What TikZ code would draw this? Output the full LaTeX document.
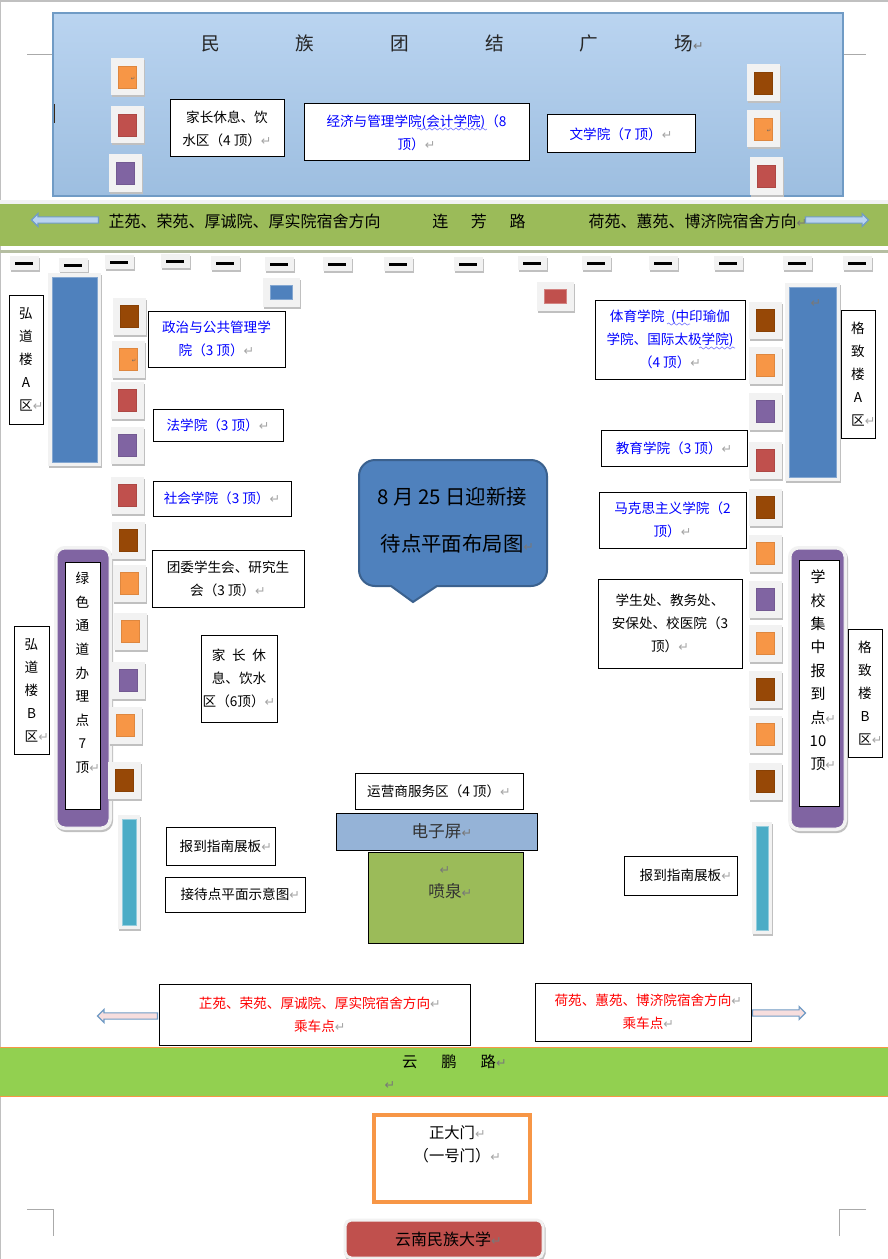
\documentclass[tikz,border=0pt]{standalone}
\usepackage{fontspec}
\setmainfont{Noto Sans CJK SC}
\newfontfamily\symfont{DejaVu Sans}
\usepackage{xcolor}
\definecolor{mapPlazaTop}{RGB}{186,212,240}
\definecolor{mapPlazaBot}{RGB}{157,190,224}
\definecolor{mapPlazaDraw}{RGB}{112,155,197}
\definecolor{mapRoad}{RGB}{155,187,89}
\definecolor{mapRoadTwo}{RGB}{146,208,80}
\definecolor{mapOrange}{RGB}{247,150,70}
\definecolor{mapRed}{RGB}{192,80,77}
\definecolor{mapPurple}{RGB}{128,100,162}
\definecolor{mapBrown}{RGB}{151,72,6}
\definecolor{mapBlue}{RGB}{79,129,189}
\definecolor{mapTeal}{RGB}{75,172,198}
\definecolor{mapScreen}{RGB}{149,179,215}
\definecolor{mapFrame}{RGB}{242,242,242}
\definecolor{mapShadow}{RGB}{192,192,192}
\definecolor{mapRet}{RGB}{165,165,165}
\definecolor{mapRetDark}{RGB}{120,120,120}
\definecolor{mapCrop}{RGB}{170,170,170}
\usepackage{tikz}
\usetikzlibrary{shapes.arrows,decorations.pathmorphing}
\newcommand{\retmark}{{\symfont\color{mapRet}\fontsize{9.5}{9.5}\selectfont ↵}}
\newcommand{\retdark}{{\symfont\color{mapRetDark}\fontsize{9.5}{9.5}\selectfont ↵}}
\newcommand{\retlap}{\rlap{\retmark}}
\newcommand{\darklap}{\rlap{\retdark}}
\newcommand{\tinyret}{\raisebox{-5pt}{\hspace{9pt}{\symfont\color{black!60}\fontsize{4}{4}\selectfont ↵}}}
\begin{document}
\begin{tikzpicture}[
    x=0.75pt, y=-0.75pt,
    sz/.style 2 args={minimum width=#1*0.75pt, minimum height=#2*0.75pt},
    framed/.style={
      preaction={draw=mapShadow, line width=#1*0.75pt, transform canvas={xshift=0.75pt,yshift=-1.5pt}},
      preaction={draw=mapFrame, line width=#1*0.75pt}},
    textbox/.style={draw=black, line width=0.75pt, fill=white, inner sep=0pt, align=center,
      font=\fontsize{10.2}{17.25}\selectfont},
    bluebox/.style={textbox, text=blue},
    redbox/.style={textbox, text=red},
    lbl/.style={inner sep=0pt, align=center, font=\fontsize{12}{17.25}\selectfont},
    tent/.style={fill=#1, draw=#1!90!black, line width=0.4pt, framed=15, inner sep=0pt,
      sz={18}{22}},
    dashmark/.style={fill=black, inner sep=0pt, framed=11, sz={18}{3}},
    block/.style={fill=mapBlue, draw=mapBlue!70!white, line width=0.4pt, framed=8, inner sep=0pt},
    smallblock/.style={fill=#1, draw=#1!70!white, line width=0.4pt, framed=15, inner sep=0pt, sz={22}{14}},
    panel/.style={fill=mapTeal, draw=mapTeal!60!white, line width=0.6pt, framed=8, inner sep=0pt},
    counter/.style={fill=mapPurple, draw=mapFrame, line width=0.75pt, rounded corners=6pt, framed=6, inner sep=0pt},
    flowarrow/.style={single arrow, fill=#1, draw=mapPlazaDraw, line width=0.9pt, inner sep=0pt,
      text height=3.8pt, text depth=0pt, single arrow head extend=2.5pt},
    squiggle/.style={draw=blue!50!white, line width=0.5pt,
      decorate, decoration={snake, amplitude=0.8pt, segment length=4pt}},
    crop/.style={draw=mapCrop, line width=0.6pt}
  ]
    \useasboundingbox (0,0) rectangle (888,1259);
    \fill[white] (0,0) rectangle (888,1259);
    \draw[mapShadow, line width=1pt] (0,1259) -- (0,1) -- (888,1);

    \draw[crop] (27,54) -- (53,54);
    \draw[crop] (844,54) -- (866,54);
    \draw[crop] (27,1209) -- (53,1209) -- (53,1236);
    \draw[crop] (866,1209) -- (839,1209) -- (839,1236);

    \node[sz={790}{183}, draw=mapPlazaDraw, line width=1.4pt, top color=mapPlazaTop, bottom color=mapPlazaBot, inner sep=0pt] (plaza) at (448,104.5) {};
    \node[lbl, font=\fontsize{14}{16}\selectfont, text=black!85] (plazatitle) at (447,43) {民\hspace{57pt}族\hspace{57pt}团\hspace{57pt}结\hspace{57pt}广\hspace{57pt}场\darklap};
    \draw[black!70!brown, line width=0.7pt] (54,104) -- (54,123);

    \node[tent=mapOrange] (topw1) at (127,77) {\tinyret};
    \node[tent=mapRed] (topw2) at (127,125) {};
    \node[tent=mapPurple] (topw3) at (125,173) {};
    \node[tent=mapBrown] (tope1) at (763,83) {};
    \node[tent=mapOrange] (tope2) at (763,129) {\tinyret};
    \node[tent=mapRed] (tope3) at (766,176) {};

    \node[textbox, sz={114}{57}] (restnorth) at (227,128.5) {家长休息、饮\\水区（4 顶）\retmark};
    \node[bluebox, sz={225}{57}] (econ) at (416.5,132.5) {经济与管理学院(会计学院)（8\\顶）\retmark};
    \node[bluebox, sz={148}{38}] (lit) at (621,134) {文学院（7 顶）\retmark};
    \draw[squiggle] (417,129) -- (487,129);

    \fill[mapFrame] (0,200) rectangle (888,204);
    \fill[mapShadow!70!mapRoad] (0,250) rectangle (888,253);
    \node[sz={888}{42}, fill=mapRoad, inner sep=0pt] (lianfang) at (444,225) {};
    \node[lbl] (dormwest) at (244.5,221) {芷苑、荣苑、厚诚院、厚实院宿舍方向};
    \node[lbl] (lianfangname) at (479,221) {连\hspace{17pt}芳\hspace{17pt}路};
    \node[lbl] (dormeast) at (692.5,221) {荷苑、蕙苑、博济院宿舍方向\darklap};
    \node[flowarrow=mapPlazaTop, shape border rotate=180, sz={12}{67}] (arrowwest) at (66.5,220) {};
    \node[flowarrow=mapPlazaTop, sz={12}{63}] (arroweast) at (835.5,220) {};

    \node[dashmark] (dash1) at (24,263) {};
    \node[dashmark] (dash2) at (73,265) {};
    \node[dashmark] (dash3) at (119,262) {};
    \node[dashmark] (dash4) at (175,261) {};
    \node[dashmark] (dash5) at (225,263) {};
    \node[dashmark] (dash6) at (279,264) {};
    \node[dashmark] (dash7) at (337,264) {};
    \node[dashmark] (dash8) at (398,264) {};
    \node[dashmark] (dash9) at (468,264) {};
    \node[dashmark] (dash10) at (532,263) {};
    \node[dashmark] (dash11) at (596,263) {};
    \node[dashmark] (dash12) at (663,263) {};
    \node[dashmark] (dash13) at (728,263) {};
    \node[dashmark] (dash14) at (797,263) {};
    \node[dashmark] (dash15) at (857,263) {};

    \node[smallblock=mapBlue] (gatewest) at (281,292) {};
    \node[smallblock=mapRed] (gateeast) at (555,296) {};

    \node[block, sz={45}{185}] (buildwest) at (74.5,369.5) {};
    \node[block, sz={47}{190}] (buildeast) at (812.5,382) {};
    \node[lbl, font=\fontsize{8}{8}\selectfont] (buildeastret) at (816,304) {\retdark};

    \node[counter, sz={52}{278}] (greenback) at (83,688) {};
    \node[counter, sz={53}{279}] (schoolback) at (817.5,688.5) {};

    \node[tent=mapBrown] (west1) at (129,316) {};
    \node[tent=mapOrange] (west2) at (128,359) {\tinyret};
    \node[tent=mapRed] (west3) at (127,400) {};
    \node[tent=mapPurple] (west4) at (127,445) {};
    \node[tent=mapRed] (west5) at (127,495) {};
    \node[tent=mapBrown] (west6) at (128,540) {};
    \node[tent=mapOrange] (west7) at (129,583) {};
    \node[tent=mapOrange] (west8) at (130,631) {};
    \node[tent=mapPurple] (west9) at (128,680) {};
    \node[tent=mapOrange] (west10) at (125,725) {};
    \node[tent=mapBrown] (west11) at (124,780) {};

    \node[tent=mapBrown] (east1) at (765,320) {};
    \node[tent=mapOrange] (east2) at (765,365) {};
    \node[tent=mapPurple] (east3) at (765,411) {};
    \node[tent=mapRed] (east4) at (765,460) {};
    \node[tent=mapBrown] (east5) at (765,507) {};
    \node[tent=mapOrange] (east6) at (765,553) {};
    \node[tent=mapPurple] (east7) at (765,599) {};
    \node[tent=mapOrange] (east8) at (765,643) {};
    \node[tent=mapBrown] (east9) at (765,689) {};
    \node[tent=mapOrange] (east10) at (765,734) {};
    \node[tent=mapBrown] (east11) at (765,781) {};

    \node[panel, sz={14}{106}] (panelwest) at (129,872) {};
    \node[panel, sz={12}{104}] (paneleast) at (762,878) {};

    \node[textbox, sz={34}{129}] (hongdaoa) at (26,359.5) {弘\\道\\楼\\A\\区\retlap};
    \node[bluebox, sz={137}{56}] (polit) at (216.5,339) {政治与公共管理学\\院（3 顶）\retmark};
    \node[bluebox, sz={130}{32}] (law) at (218,425) {法学院（3 顶）\retmark};
    \node[bluebox, sz={138}{35}] (soc) at (222,498.5) {社会学院（3 顶）\retmark};
    \node[textbox, sz={152}{57}] (league) at (228,578.5) {团委学生会、研究生\\会（3 顶）\retmark};
    \node[textbox, sz={76}{87}] (restwest) at (239,678.5) {家\hspace{5pt}长\hspace{5pt}休\\息、饮水\\区（6顶）\retmark};
    \node[textbox, sz={35}{128}] (hongdaob) at (31.5,690) {弘\\道\\楼\\B\\区\retlap};
    \node[textbox, sz={35}{247}] (greenpoint) at (82.5,685.5) {};
    \node[lbl, font=\fontsize{10.2}{17.7}\selectfont] (greentext) at (82.5,673) {绿\\色\\通\\道\\办\\理\\点\\7\\顶\retlap};
    \node[textbox, sz={109}{38}] (guidewest) at (220.5,846) {报到指南展板\retlap};
    \node[textbox, sz={140}{35}] (sketchmap) at (235,894.5) {接待点平面示意图\retlap};

    \node[bluebox, sz={150}{79}] (sport) at (670,339.5) {体育学院\hspace{5pt}(中印瑜伽\\学院、国际太极学院)\\（4 顶）\retmark};
    \node[bluebox, sz={146}{36}] (edu) at (674,448) {教育学院（3 顶）\retmark};
    \node[bluebox, sz={147}{56}] (marx) at (672.5,520) {马克思主义学院（2\\顶）\retmark};
    \draw[squiggle] (667,324) -- (690,324);
    \draw[squiggle] (699,348) -- (735,348);
    \node[textbox, sz={34}{128}] (gezhia) at (858,374) {格\\致\\楼\\A\\区\retlap};
    \node[textbox, sz={144}{89}] (office) at (670,623.5) {学生处、教务处、\\安保处、校医院（3\\顶）\retmark};
    \node[textbox, sz={40}{246}] (schoolpoint) at (819,683) {};
    \node[lbl, font=\fontsize{11.2}{17.55}\selectfont] (schooltext) at (818,670.5) {学\\校\\集\\中\\报\\到\\点\retlap\\10\\顶\retlap};
    \node[textbox, sz={34}{128}] (gezhib) at (865,693) {格\\致\\楼\\B\\区\retlap};
    \node[textbox, sz={113}{39}] (guideeast) at (680.5,875.5) {报到指南展板\retlap};

    \draw[fill=mapBlue, draw=mapBlue!75!black, line width=1.5pt]
      (450,460) [rounded corners=12pt] -- (547,460) -- (547,586) [sharp corners] -- (437,586) -- (413,602) -- (391,586)
      [rounded corners=12pt] -- (359,586) -- (359,460) -- cycle;
    \node[lbl, font=\fontsize{15.3}{35}\selectfont] (maptitle) at (452,520) {8 月 25 日迎新接\\待点平面布局图\darklap};

    \node[textbox, sz={168}{36}] (carrier) at (439,791) {运营商服务区（4 顶）\retmark};
    \node[textbox, sz={201}{37}, fill=mapScreen, font=\fontsize{12.5}{17}\selectfont, text=black!80] (screen) at (436.5,831.5) {电子屏\darklap};
    \node[textbox, sz={155}{91}, fill=mapRoad] (fountain) at (445.5,897.5) {};
    \node[lbl, font=\fontsize{12.5}{17.25}\selectfont, text=black!80] (fountaintext) at (445,883) {\retdark\\喷泉\darklap};

    \node[flowarrow=mapFrame!60!pink, shape border rotate=180, sz={11}{60}] (busarrowwest) at (129,1016) {};
    \node[flowarrow=mapFrame!60!pink, sz={11}{53}] (busarroweast) at (777.5,1013) {};
    \node[redbox, sz={311}{61}] (buswest) at (314.5,1014.5) {芷苑、荣苑、厚诚院、厚实院宿舍方向\retlap\\乘车点\retlap};
    \node[redbox, sz={216}{58}] (buseast) at (643,1012) {荷苑、蕙苑、博济院宿舍方向\retlap\\乘车点\retlap};

    \node[sz={894}{49}, fill=mapRoadTwo, draw=mapOrange, line width=0.75pt, inner sep=0pt] (yunpeng) at (444,1071.5) {};
    \node[lbl, font=\fontsize{11.5}{14}\selectfont] (yunpengname) at (449,1062) {云\hspace{18pt}鹏\hspace{18pt}路\darklap};
    \node[lbl, font=\fontsize{8}{8}\selectfont] (yunpengret) at (390,1086) {\retdark};

    \node[textbox, sz={156}{87}, draw=mapOrange, line width=3pt] (gate) at (451.5,1158) {};
    \node[lbl, font=\fontsize{11.5}{17}\selectfont] (gatetext) at (452,1144) {正大门\retlap\\（一号门）\retlap};

    \node[sz={196}{36}, fill=mapRed, draw=mapFrame, line width=0.75pt, rounded corners=4pt, framed=5, inner sep=0pt] (univ) at (444,1239) {};
    \node[lbl] (univtext) at (443,1239) {云南民族大学\darklap};
  \end{tikzpicture}
\end{document}
